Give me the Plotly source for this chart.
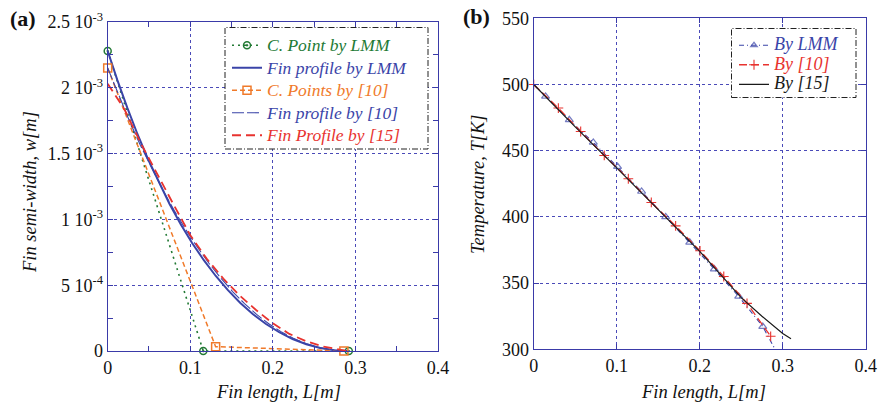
import plotly.graph_objects as go

# ---------------- panel (a): fin semi-width profile ----------------
lmm_cp_x = [0.0, 0.1157, 0.292]
lmm_cp_w = [2.28e-3, 0.0, 0.0]

ref10_cp_x = [0.0, 0.1307, 0.286]
ref10_cp_w = [2.15e-3, 3.3e-5, 0.0]

lmm_prof_x = [0.0, 0.0117, 0.0238, 0.0361, 0.0487, 0.0617, 0.0749, 0.0884, 0.1022,
              0.1164, 0.1309, 0.1456, 0.1606, 0.1760, 0.1917, 0.2077, 0.2239, 0.2405,
              0.2573, 0.2745, 0.292]
lmm_prof_w = [2.28e-3, 2.058e-3, 1.847e-3, 1.647e-3, 1.459e-3, 1.283e-3, 1.117e-3,
              0.963e-3, 0.821e-3, 0.690e-3, 0.570e-3, 0.462e-3, 0.365e-3, 0.279e-3,
              0.205e-3, 0.1425e-3, 0.091e-3, 0.0513e-3, 0.0228e-3, 0.0057e-3, 0.0]

ref10_prof_x = [0.0, 0.0131, 0.0264, 0.0397, 0.0533, 0.0669, 0.0806, 0.0945, 0.1085,
                0.1226, 0.1369, 0.1512, 0.1657, 0.1803, 0.1950, 0.2099, 0.2248, 0.2399,
                0.2552, 0.2705, 0.286]
ref10_prof_w = [2.15e-3, 1.943e-3, 1.747e-3, 1.562e-3, 1.387e-3, 1.222e-3, 1.067e-3,
                0.923e-3, 0.790e-3, 0.667e-3, 0.554e-3, 0.452e-3, 0.360e-3, 0.278e-3,
                0.207e-3, 0.147e-3, 0.097e-3, 0.0568e-3, 0.0275e-3, 0.0085e-3, 0.0]

ref15_prof_x = [0.0, 0.02, 0.04, 0.06, 0.08, 0.10, 0.12, 0.14, 0.16, 0.18, 0.20,
                0.22, 0.24, 0.26, 0.28, 0.29]
ref15_prof_w = [2.03e-3, 1.84e-3, 1.58e-3, 1.34e-3, 1.11e-3, 0.88e-3, 0.70e-3,
                0.55e-3, 0.42e-3, 0.31e-3, 0.21e-3, 0.13e-3, 0.075e-3, 0.035e-3,
                0.01e-3, 0.0]

w_tickvals = [0.0, 5e-4, 1e-3, 1.5e-3, 2e-3, 2.5e-3]
w_ticktext = ["0", "5 10<sup>-4</sup>", "1 10<sup>-3</sup>", "1.5 10<sup>-3</sup>",
              "2 10<sup>-3</sup>", "2.5 10<sup>-3</sup>"]
len_tickvals = [0.0, 0.1, 0.2, 0.3, 0.4]
len_ticktext = ["0", "0.1", "0.2", "0.3", "0.4"]

# ---------------- panel (b): temperature distribution ----------------
lmm_T_x = [0.0, 0.0143, 0.0429, 0.0718, 0.1010, 0.1300, 0.1590, 0.1880, 0.2176,
           0.2470, 0.2760, 0.2900]
lmm_T = [500.0, 491.0, 473.3, 456.2, 438.0, 419.2, 400.0, 380.8, 360.6, 339.9,
         317.2, 300.9]
lmm_T_marker = [0, 7, 7, 7, 7, 7, 7, 7, 7, 7, 7, 0]

ref10_T_x = [0.0, 0.0297, 0.0566, 0.0850, 0.1140, 0.1417, 0.1710, 0.2004, 0.2290,
             0.2570, 0.2855]
ref10_T = [500.0, 482.2, 464.5, 446.4, 428.8, 410.9, 393.2, 374.4, 355.0, 334.7, 309.8]

ref15_T_x = [0.0, 0.05, 0.10, 0.15, 0.20, 0.25, 0.275, 0.30, 0.31]
ref15_T = [500.0, 468.0, 437.0, 405.5, 374.0, 339.0, 325.0, 312.0, 308.0]

T_tickvals = [300, 350, 400, 450, 500, 550]

# ---------------- styling ----------------
W, H = 879, 402
SERIF = "Liberation Serif"
GREEN = "#237a35"
BLUE = "#3a44a8"
ORANGE = "#f07a2a"
RED = "#e8332f"
BLACK = "#1a1a1a"
AXIS = "#3a3aa8"
GRID = "#4a4ab8"
TICK_SIZE = 18


def px_x(p):
    return p / W


def px_y(p):
    return 1 - p / H


def legend_name(text, color, size):
    return f"<span style='color:{color};font-size:{size}px'><i>{text}</i></span>"


fig = go.Figure()

# panel (a) traces
fig.add_trace(go.Scatter(
    x=lmm_cp_x, y=lmm_cp_w, mode="lines+markers", cliponaxis=False,
    name=legend_name("C. Point by LMM", GREEN, 17.5),
    line=dict(color=GREEN, width=1.6, dash="2px,4px"),
    marker=dict(symbol="circle-open-dot", size=7, color=GREEN, line=dict(width=1.5, color=GREEN)),
    xaxis="x", yaxis="y", legend="legend"))
fig.add_trace(go.Scatter(
    x=lmm_prof_x, y=lmm_prof_w, mode="lines",
    name=legend_name("Fin profile by LMM", BLUE, 17.5),
    line=dict(color=BLUE, width=2),
    xaxis="x", yaxis="y", legend="legend"))
fig.add_trace(go.Scatter(
    x=ref10_cp_x, y=ref10_cp_w, mode="lines+markers", cliponaxis=False,
    name=legend_name("C. Points by [10]", ORANGE, 17.5),
    line=dict(color=ORANGE, width=1.5, dash="5px,3px"),
    marker=dict(symbol="square-open", size=8, color=ORANGE, line=dict(width=1.5, color=ORANGE)),
    xaxis="x", yaxis="y", legend="legend"))
fig.add_trace(go.Scatter(
    x=ref10_prof_x, y=ref10_prof_w, mode="lines",
    name=legend_name("Fin profile by [10]", BLUE, 17.5),
    line=dict(color=BLUE, width=1.1, dash="12px,3px"),
    xaxis="x", yaxis="y", legend="legend"))
fig.add_trace(go.Scatter(
    x=ref15_prof_x, y=ref15_prof_w, mode="lines",
    name=legend_name("Fin Profile by [15]", RED, 17.5),
    line=dict(color=RED, width=1.8, dash="9px,5px"),
    xaxis="x", yaxis="y", legend="legend"))

# panel (b) traces
fig.add_trace(go.Scatter(
    x=lmm_T_x, y=lmm_T, mode="lines+markers", cliponaxis=False,
    name=legend_name("By LMM", BLUE, 18),
    line=dict(color=BLUE, width=1.1, dash="5px,3px,1px,3px"),
    marker=dict(symbol="triangle-up-open", size=lmm_T_marker, color=BLUE,
                line=dict(width=1.2, color=BLUE)),
    xaxis="x2", yaxis="y2", legend="legend2"))
fig.add_trace(go.Scatter(
    x=ref10_T_x, y=ref10_T, mode="lines+markers", cliponaxis=False,
    name=legend_name("By [10]", RED, 18),
    line=dict(color=RED, width=1.3, dash="8px,4px"),
    marker=dict(symbol="cross-thin", size=7, color=RED, line=dict(width=1.1, color=RED)),
    xaxis="x2", yaxis="y2", legend="legend2"))
fig.add_trace(go.Scatter(
    x=ref15_T_x, y=ref15_T, mode="lines",
    name=legend_name("By [15]", BLACK, 18),
    line=dict(color=BLACK, width=1.2),
    xaxis="x2", yaxis="y2", legend="legend2"))


def axis_style(**extra):
    base = dict(
        showline=True, linecolor=AXIS, linewidth=1, mirror="ticks",
        ticks="inside", ticklen=5, tickcolor=AXIS, tickwidth=1,
        showgrid=True, gridcolor=GRID, griddash="dot", gridwidth=1,
        zeroline=False, automargin=False,
        tickfont=dict(family=SERIF, size=TICK_SIZE, color="#111111"),
    )
    base.update(extra)
    return base


fig.update_layout(
    width=W, height=H,
    margin=dict(l=0, r=0, t=0, b=0),
    paper_bgcolor="white", plot_bgcolor="white",
    font=dict(family=SERIF, color="#111111", size=TICK_SIZE),
    xaxis=axis_style(domain=[px_x(107.7), px_x(438.0)], range=[0, 0.4],
                     tickvals=len_tickvals, ticktext=len_ticktext, anchor="y",
                     minor=dict(dtick=0.05, ticks="inside", ticklen=5, tickcolor=AXIS, showgrid=False)),
    yaxis=axis_style(domain=[px_y(351.0), px_y(22.0)], range=[0, 2.5e-3],
                     tickvals=w_tickvals, ticktext=w_ticktext, anchor="x",
                     minor=dict(dtick=2.5e-4, ticks="inside", ticklen=5, tickcolor=AXIS, showgrid=False)),
    xaxis2=axis_style(domain=[px_x(533.7), px_x(865.7)], range=[0, 0.4],
                      tickvals=len_tickvals, ticktext=len_ticktext, anchor="y2"),
    yaxis2=axis_style(domain=[px_y(349.3), px_y(18.3)], range=[300, 550],
                      tickvals=T_tickvals, anchor="x2"),
    legend=dict(x=px_x(227), y=px_y(29), xanchor="left", yanchor="top",
                bgcolor="rgba(0,0,0,0)", borderwidth=0, itemwidth=30,
                font=dict(family=SERIF, size=15), traceorder="normal"),
    legend2=dict(x=px_x(734), y=px_y(30.5), xanchor="left", yanchor="top",
                 bgcolor="rgba(0,0,0,0)", borderwidth=0, itemwidth=30,
                 font=dict(family=SERIF, size=12.7), traceorder="normal"),
    showlegend=True,
)

# dash-dot legend frames with white fill
frame_line = dict(color="#222222", width=1, dash="6px,2px,1px,2px")
fig.add_shape(type="rect", xref="paper", yref="paper", layer="above",
              x0=px_x(225), x1=px_x(428), y0=px_y(149), y1=px_y(27.5),
              line=frame_line, fillcolor="white")
fig.add_shape(type="rect", xref="paper", yref="paper", layer="above",
              x0=px_x(731.5), x1=px_x(856), y0=px_y(97.5), y1=px_y(28.5),
              line=frame_line, fillcolor="white")

# axis titles and panel labels
title_font = dict(family=SERIF, size=18.5, color="#111111")
fig.add_annotation(text="<i>Fin length, L[m]</i>", x=px_x(278), y=px_y(392), xref="paper", yref="paper",
                   showarrow=False, xanchor="center", yanchor="middle", font=title_font)
fig.add_annotation(text="<i>Fin length, L[m]</i>", x=px_x(703), y=px_y(392), xref="paper", yref="paper",
                   showarrow=False, xanchor="center", yanchor="middle", font=title_font)
fig.add_annotation(text="<i>Fin semi-width, w[m]</i>", x=px_x(30), y=px_y(192), xref="paper", yref="paper",
                   showarrow=False, xanchor="center", yanchor="middle", textangle=-90, font=title_font)
fig.add_annotation(text="<i>Temperature, T[K]</i>", x=px_x(478), y=px_y(185), xref="paper", yref="paper",
                   showarrow=False, xanchor="center", yanchor="middle", textangle=-90, font=title_font)
label_font = dict(family=SERIF, size=22, color="#111111")
fig.add_annotation(text="<b>(a)</b>", x=px_x(23), y=px_y(19), xref="paper", yref="paper",
                   showarrow=False, xanchor="center", yanchor="middle", font=label_font)
fig.add_annotation(text="<b>(b)</b>", x=px_x(476), y=px_y(16), xref="paper", yref="paper",
                   showarrow=False, xanchor="center", yanchor="middle", font=label_font)

fig.write_html("out.html")
